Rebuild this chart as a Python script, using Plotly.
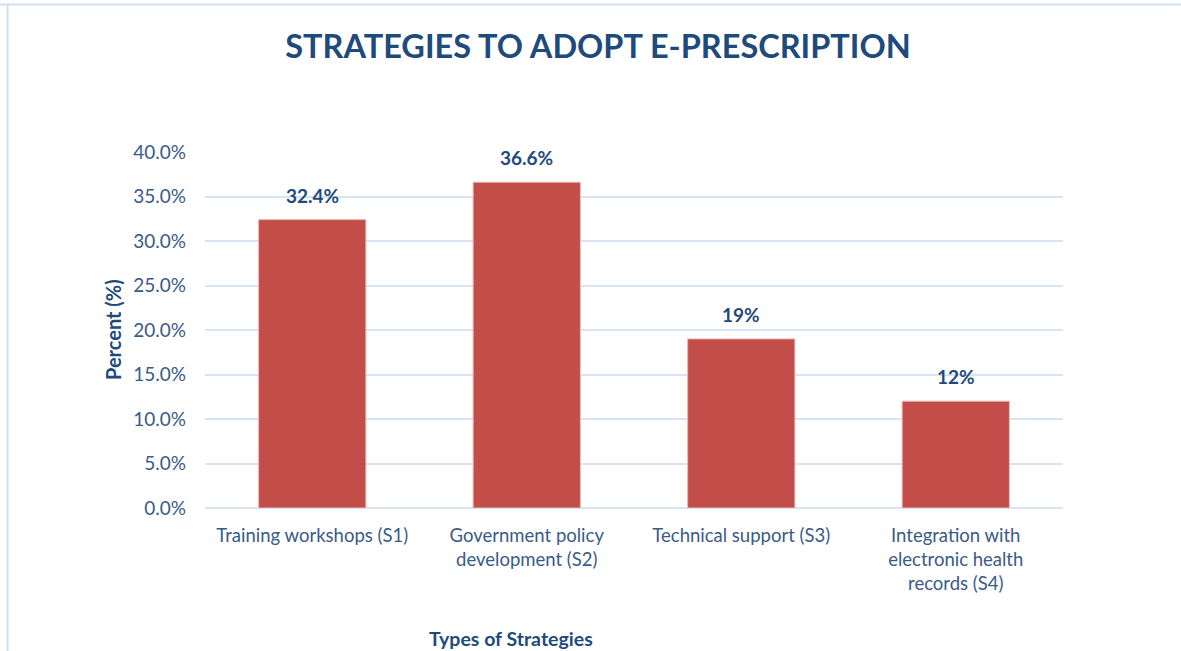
import plotly.graph_objects as go

categories = [
    "Training workshops (S1)",
    "Government policy<br>development (S2)",
    "Technical support (S3)",
    "Integration with<br>electronic health<br>records (S4)",
]
values = [0.324, 0.366, 0.19, 0.12]
value_labels = ["32.4%", "36.6%", "19%", "12%"]
y_ticks = [0, 0.05, 0.10, 0.15, 0.20, 0.25, 0.30, 0.35, 0.40]

FONT = "Lato"
NAVY = "#1F4A7C"
TICK = "#3A5A87"
GRID = "#D9E4F2"

W, H = 1181, 651
ML, MR, MT, MB = 205, 118, 152, 143
PW, PH = W - ML - MR, H - MT - MB

def px_x(x):
    return (x - ML) / PW

def px_y(y):
    return (H - MB - y) / PH

fig = go.Figure(
    go.Bar(
        x=categories,
        y=values,
        width=0.5,
        marker=dict(color="#C24D49", line=dict(color="#E8B9B7", width=1)),
        hoverinfo="skip",
    )
)

annotations = []
for c, v, t in zip(categories, values, value_labels):
    annotations.append(dict(
        x=c, y=v, xref="x", yref="y", text=f"<b>{t}</b>", showarrow=False,
        yanchor="bottom", yshift=11,
        font=dict(family=FONT, size=19, color=NAVY),
    ))

annotations.append(dict(
    x=px_x(511), y=px_y(638), xref="paper", yref="paper",
    text="<b>Types of Strategies</b>", showarrow=False,
    xanchor="center", yanchor="middle",
    font=dict(family=FONT, size=19.5, color=NAVY),
))
annotations.append(dict(
    x=px_x(113), y=px_y(330), xref="paper", yref="paper",
    text="<b>Percent (%)</b>", showarrow=False, textangle=-90,
    xanchor="center", yanchor="middle",
    font=dict(family=FONT, size=20, color=NAVY),
))

shapes = [
    dict(type="line", xref="paper", yref="paper",
         x0=px_x(0), x1=px_x(W), y0=px_y(4.5), y1=px_y(4.5),
         line=dict(color="#D3E0F1", width=2)),
    dict(type="line", xref="paper", yref="paper",
         x0=px_x(7.5), x1=px_x(7.5), y0=px_y(4.5), y1=px_y(H),
         line=dict(color="#D3E0F1", width=2)),
]

fig.update_layout(
    width=W, height=H,
    margin=dict(l=ML, r=MR, t=MT, b=MB, autoexpand=False),
    paper_bgcolor="white", plot_bgcolor="white",
    showlegend=False,
    title=dict(
        text="<b>STRATEGIES TO ADOPT E-PRESCRIPTION</b>",
        x=px_x(598), xref="paper", xanchor="center",
        y=1 - 47 / H, yanchor="middle",
        font=dict(family=FONT, size=32.5, color=NAVY),
    ),
    annotations=annotations,
    shapes=shapes,
    bargap=0.5,
)

fig.update_yaxes(
    range=[0, 0.40], tickvals=y_ticks, tickformat=".1%",
    showgrid=True, gridcolor=GRID, gridwidth=1.5,
    zeroline=True, zerolinecolor=GRID, zerolinewidth=1.5,
    showline=False, ticks="",
    tickfont=dict(family=FONT, size=19, color=TICK),
    ticklabelstandoff=18,
)
fig.update_xaxes(
    showline=False, ticks="", showgrid=False,
    tickfont=dict(family=FONT, size=18.5, color=TICK),
    ticklabelstandoff=14,
)

fig.write_html("out.html")
